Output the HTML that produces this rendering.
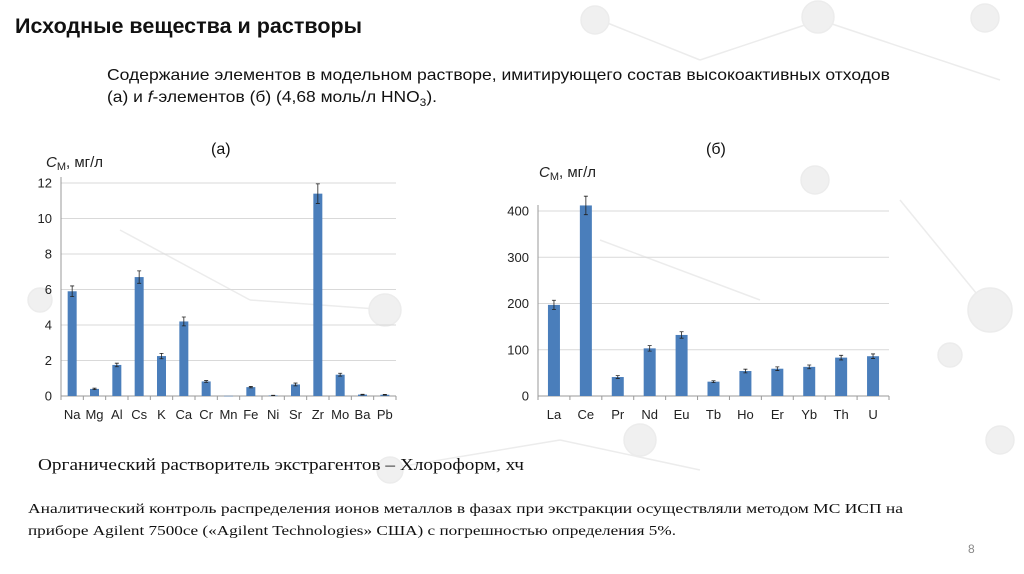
<!DOCTYPE html>
<html><head><meta charset="utf-8"><style>
html,body{margin:0;padding:0;background:#fff;}
svg{display:block;}
.sans{font-family:"Liberation Sans","Noto Sans CJK SC",sans-serif;}
.serif{font-family:"Liberation Serif","Noto Serif CJK SC",serif;}
</style></head><body>
<svg id="page" width="1024" height="574" viewBox="0 0 1024 574" xmlns="http://www.w3.org/2000/svg">
<g id="bg" fill="#f0f0f0" stroke="#ececec" stroke-width="1.5">
<line x1="600" y1="20" x2="700" y2="60"/><line x1="700" y1="60" x2="820" y2="20"/><line x1="820" y1="20" x2="1000" y2="80"/>
<line x1="120" y1="230" x2="250" y2="300"/><line x1="250" y1="300" x2="390" y2="310"/><line x1="600" y1="240" x2="760" y2="300"/>
<line x1="900" y1="200" x2="990" y2="310"/><line x1="380" y1="470" x2="560" y2="440"/><line x1="560" y1="440" x2="700" y2="470"/>
<circle cx="595" cy="20" r="14"/><circle cx="818" cy="17" r="16"/><circle cx="985" cy="18" r="14"/><circle cx="990" cy="310" r="22"/>
<circle cx="385" cy="310" r="16"/><circle cx="640" cy="440" r="16"/><circle cx="815" cy="180" r="14"/><circle cx="950" cy="355" r="12"/>
<circle cx="40" cy="300" r="12"/><circle cx="390" cy="470" r="13"/><circle cx="1000" cy="440" r="14"/>
</g>
<text class="sans" x="15" y="33" font-size="21" font-weight="bold" fill="#111" textLength="347" lengthAdjust="spacingAndGlyphs">Исходные вещества и растворы</text>
<text class="sans" x="107" y="80" font-size="16" fill="#111" textLength="783" lengthAdjust="spacingAndGlyphs">Содержание элементов в модельном растворе, имитирующего состав высокоактивных отходов</text>
<text class="sans" x="107" y="102" font-size="16" fill="#111" textLength="330" lengthAdjust="spacingAndGlyphs">(а) и <tspan font-style="italic">f</tspan>-элементов (б) (4,68 моль/л HNO<tspan font-size="11" dy="4">3</tspan><tspan dy="-4">).</tspan></text>
<text class="sans" x="211" y="154" font-size="16" fill="#111">(а)</text>
<text class="sans" x="706" y="154" font-size="16" fill="#111">(б)</text>
<g id="chartA"></g>
<g id="chartB"></g>
<text class="serif" x="38" y="470" font-size="17" fill="#111" textLength="486" lengthAdjust="spacingAndGlyphs">Органический растворитель экстрагентов – Хлороформ, хч</text>
<text class="serif" x="28" y="513" font-size="14" fill="#111" textLength="875" lengthAdjust="spacingAndGlyphs">Аналитический контроль распределения ионов металлов в фазах при экстракции осуществляли методом МС ИСП на</text>
<text class="serif" x="28" y="535" font-size="14" fill="#111" textLength="648" lengthAdjust="spacingAndGlyphs">приборе Agilent 7500ce («Agilent Technologies» США) с погрешностью определения 5%.</text>
<text class="sans" x="968" y="553" font-size="12" fill="#888">8</text>
</svg>
<script>
const catsA = ["Na","Mg","Al","Cs","K","Ca","Cr","Mn","Fe","Ni","Sr","Zr","Mo","Ba","Pb"];
const valsA = [5.9,0.4,1.75,6.7,2.25,4.2,0.82,0.01,0.5,0.03,0.65,11.4,1.2,0.08,0.07];
const errsA = [0.3,0.04,0.1,0.35,0.15,0.25,0.05,0,0.04,0.01,0.08,0.55,0.08,0.02,0.02];
const ticksA = [0,2,4,6,8,10,12];
const catsB = ["La","Ce","Pr","Nd","Eu","Tb","Ho","Er","Yb","Th","U"];
const valsB = [197,412,41,103,132,31,54,59,63,83,86];
const errsB = [10,20,3,6,7,2,4,4,4,5,5];
const ticksB = [0,100,200,300,400];
const NS = "http://www.w3.org/2000/svg";
function mk(parent, tag, attrs, text){
  const e = document.createElementNS(NS, tag);
  for (const k in attrs) e.setAttribute(k, attrs[k]);
  if (text !== undefined) e.textContent = text;
  parent.appendChild(e); return e;
}
function draw(g, cats, vals, errs, ticks, cfg){
  const ymax = ticks[ticks.length-1];
  const y = v => cfg.y0 - (v/ymax)*(cfg.y0-cfg.yTop);
  const bw = (cfg.x1-cfg.x0)/cats.length;
  const x = i => cfg.x0 + bw*(i+0.5);
  ticks.forEach(t => {
    if (t>0) { const l = mk(g,"line",{x1:cfg.x0,x2:cfg.x1,y1:y(t),y2:y(t),stroke:"#d9d9d9","stroke-width":1});
        }
    const tx = mk(g,"text",{x:cfg.x0-9,y:y(t)+4.5,"font-size":13,"text-anchor":"end",fill:"#222",class:"sans"},String(t));
     
  });
  const ax = mk(g,"line",{x1:cfg.x0,x2:cfg.x0,y1:cfg.yTop-6,y2:cfg.y0,stroke:"#999"});
   
  const xa = mk(g,"line",{x1:cfg.x0,x2:cfg.x1,y1:cfg.y0,y2:cfg.y0,stroke:"#999"});
   
  for (let i=0;i<=cats.length;i++){ mk(g,"line",{x1:cfg.x0+bw*i,x2:cfg.x0+bw*i,y1:cfg.y0,y2:cfg.y0+4,stroke:"#999"}); }
  cats.forEach((c,i)=>{
    const r = mk(g,"rect",{x:x(i)-cfg.bar/2,y:y(vals[i]),width:cfg.bar,height:Math.max(0.5,cfg.y0-y(vals[i])),fill:"#4a7ebb"});
     
    if (errs[i]>0){
      const e = mk(g,"path",{d:`M${x(i)} ${y(vals[i]+errs[i])}V${y(vals[i]-errs[i])}M${x(i)-2} ${y(vals[i]+errs[i])}h4M${x(i)-2} ${y(vals[i]-errs[i])}h4`,stroke:"#222","stroke-width":0.8,fill:"none"});
       
    }
    const t = mk(g,"text",{x:x(i),y:cfg.y0+23,"font-size":13,"text-anchor":"middle",fill:"#222",class:"sans"},c);
     
  });
  const yl = mk(g,"text",{x:cfg.lx,y:cfg.ly,"font-size":15,fill:"#222",class:"sans"});
   
  mk(yl,"tspan",{"font-style":"italic"},"C");
  mk(yl,"tspan",{"font-size":11,dy:3},"М");
  mk(yl,"tspan",{dy:-3},", мг/л");
}
draw(document.getElementById('chartA'), catsA, valsA, errsA, ticksA, {x0:61,x1:396,y0:396,yTop:183,bar:9,lx:46,ly:167});
draw(document.getElementById('chartB'), catsB, valsB, errsB, ticksB, {x0:538,x1:889,y0:396,yTop:211,bar:12,lx:539,ly:177});
</script>
</body></html>
